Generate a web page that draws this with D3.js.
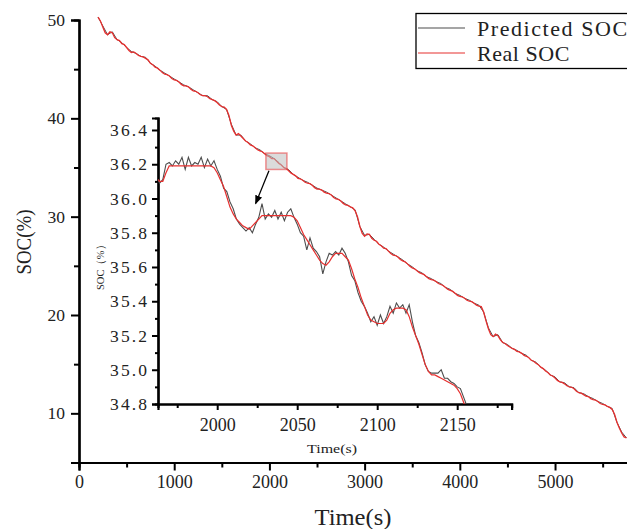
<!DOCTYPE html>
<html><head><meta charset="utf-8">
<script src="https://cdn.jsdelivr.net/npm/d3@7/dist/d3.min.js"></script>
<style>
html,body{margin:0;padding:0;background:#fff;}
svg{display:block;}
text{font-family:"Liberation Serif","Times New Roman",serif;fill:#222;}
</style></head>
<body>
<svg id="chart" width="627" height="529"></svg>
<script>
// ---------------- DATA ----------------
const realTime = [200,225,250,275,300,325,350,375,400,425,450,475,500,525,550,575,600,625,650,675,700,725,750,775,800,825,850,875,900,925,950,975,1000,1025,1050,1075,1100,1125,1150,1175,1200,1225,1250,1275,1300,1325,1350,1375,1400,1425,1450,1475,1500,1525,1550,1575,1600,1625,1650,1675,1700,1725,1750,1775,1800,1825,1850,1875,1900,1925,1950,1975,2000,2025,2050,2075,2100,2125,2150,2175,2200,2225,2250,2275,2300,2325,2350,2375,2400,2425,2450,2475,2500,2525,2550,2575,2600,2625,2650,2675,2700,2725,2750,2775,2800,2825,2850,2875,2900,2925,2950,2975,3000,3025,3050,3075,3100,3125,3150,3175,3200,3225,3250,3275,3300,3325,3350,3375,3400,3425,3450,3475,3500,3525,3550,3575,3600,3625,3650,3675,3700,3725,3750,3775,3800,3825,3850,3875,3900,3925,3950,3975,4000,4025,4050,4075,4100,4125,4150,4175,4200,4225,4250,4275,4300,4325,4350,4375,4400,4425,4450,4475,4500,4525,4550,4575,4600,4625,4650,4675,4700,4725,4750,4775,4800,4825,4850,4875,4900,4925,4950,4975,5000,5025,5050,5075,5100,5125,5150,5175,5200,5225,5250,5275,5300,5325,5350,5375,5400,5425,5450,5475,5500,5525,5550,5575,5600,5625,5650,5675,5700,5725,5750];
const realSOC = [50.3,49.9,49.3,48.7,48.5,48.8,48.7,48.2,48.0,47.9,47.6,47.5,47.2,46.9,46.7,46.75,46.6,46.4,46.3,46.25,46.1,45.95,45.6,45.45,45.2,45.1,44.9,44.65,44.5,44.45,44.3,44.05,43.9,43.85,43.7,43.45,43.3,43.3,43.2,42.95,42.8,42.75,42.6,42.4,42.3,42.3,42.2,42.0,41.9,41.8,41.6,41.35,41.2,41.15,40.9,40.3,39.3,38.7,38.3,38.45,38.2,37.95,37.7,37.55,37.3,37.2,37.0,36.8,36.7,36.6,36.4,36.2,36.1,35.9,35.9,35.65,35.4,35.25,35.0,34.9,34.7,34.45,34.3,34.15,33.9,33.85,33.7,33.5,33.4,33.35,33.2,32.95,32.8,32.8,32.7,32.5,32.4,32.35,32.2,31.95,31.8,31.75,31.6,31.35,31.2,31.15,31.0,30.9,30.6,30.0,29.0,28.3,28.0,28.25,28.2,27.8,27.6,27.5,27.2,27.05,26.8,26.75,26.5,26.25,26.1,26.05,25.9,25.65,25.5,25.4,25.2,24.95,24.8,24.7,24.5,24.3,24.2,24.1,23.9,23.7,23.6,23.55,23.4,23.2,23.1,23.0,22.8,22.6,22.5,22.4,22.2,22.0,21.9,21.85,21.7,21.5,21.4,21.35,21.2,21.0,20.9,20.85,20.3,19.4,18.6,18.0,17.8,18.05,17.9,17.5,17.2,17.1,16.9,16.75,16.6,16.5,16.3,16.25,16.1,15.9,15.8,15.65,15.4,15.3,15.1,14.95,14.7,14.55,14.3,14.15,13.9,13.8,13.6,13.35,13.2,13.15,13.0,12.8,12.7,12.65,12.5,12.25,12.1,12.05,11.9,11.75,11.7,11.5,11.4,11.35,11.2,11.0,10.9,10.85,10.7,10.6,10.4,9.9,9.1,8.5,8.0,7.6,7.5];

const predTime = [200,250,300,350,400,450,500,550,600,650,700,750,800,850,900,950,1000,1050,1100,1150,1200,1250,1300,1350,1400,1450,1500,1550,1600,1650,1700,1750,1800,1850,1900,1950,2000,2050,2100,2150,2200,2250,2300,2350,2400,2450,2500,2550,2600,2650,2700,2750,2800,2850,2900,2950,3000,3050,3100,3150,3200,3250,3300,3350,3400,3450,3500,3550,3600,3650,3700,3750,3800,3850,3900,3950,4000,4050,4100,4150,4200,4250,4300,4350,4400,4450,4500,4550,4600,4650,4700,4750,4800,4850,4900,4950,5000,5050,5100,5150,5200,5250,5300,5350,5400,5450,5500,5550,5600,5650,5700,5750];
const predSOC = [50.3,49.4,48.5,48.8,48.0,47.7,47.2,46.8,46.6,46.3,46.2,45.6,45.3,44.9,44.6,44.3,44.0,43.7,43.4,43.2,42.9,42.6,42.3,42.3,41.9,41.7,41.2,40.9,39.4,38.3,38.3,37.7,37.4,37.0,36.8,36.4,36.2,35.9,35.5,35.0,34.8,34.3,34.0,33.7,33.5,33.2,32.9,32.7,32.5,32.2,31.9,31.6,31.3,31.0,30.7,29.0,28.1,28.2,27.7,27.2,26.9,26.5,26.2,25.9,25.6,25.2,24.9,24.5,24.3,23.9,23.7,23.4,23.2,22.8,22.6,22.2,22.0,21.7,21.5,21.2,21.0,20.3,18.7,17.8,18.0,17.2,17.0,16.6,16.4,16.1,15.9,15.4,15.2,14.7,14.4,13.9,13.7,13.2,13.1,12.7,12.6,12.1,12.0,11.7,11.5,11.2,11.0,10.7,10.5,9.1,8.1,7.5];

const insetTime = [1962,1964,1966,1968,1970,1972,1974,1976,1978,1980,1982,1984,1986,1988,1990,1992,1994,1996,1998,2000,2002,2004,2006,2008,2010,2012,2014,2016,2018,2020,2022,2024,2026,2028,2030,2032,2034,2036,2038,2040,2042,2044,2046,2048,2050,2052,2054,2056,2058,2060,2062,2064,2066,2068,2070,2072,2074,2076,2078,2080,2082,2084,2086,2088,2090,2092,2094,2096,2098,2100,2102,2104,2106,2108,2110,2112,2114,2116,2118,2120,2122,2124,2126,2128,2130,2132,2134,2136,2138,2140,2142,2144,2146,2148,2150,2152,2154,2156];
const insetReal = [36.12,36.10,36.10,36.15,36.19,36.19,36.19,36.19,36.19,36.19,36.19,36.19,36.19,36.19,36.19,36.19,36.19,36.19,36.18,36.15,36.11,36.07,36.01,35.95,35.91,35.88,35.86,35.84,35.83,35.82,35.84,35.86,35.88,35.90,35.90,35.90,35.90,35.90,35.90,35.90,35.90,35.90,35.90,35.89,35.87,35.83,35.79,35.76,35.73,35.70,35.67,35.64,35.62,35.61,35.63,35.66,35.68,35.68,35.68,35.66,35.64,35.59,35.53,35.48,35.42,35.37,35.32,35.29,35.28,35.27,35.27,35.27,35.29,35.33,35.35,35.36,35.36,35.36,35.35,35.31,35.25,35.20,35.15,35.09,35.03,34.99,34.97,34.97,34.96,34.95,34.94,34.93,34.92,34.91,34.89,34.86,34.81,34.76];
const insetPred = [36.12,36.09,36.11,36.20,36.21,36.19,36.22,36.20,36.24,36.17,36.24,36.19,36.21,36.20,36.24,36.18,36.23,36.19,36.22,36.17,36.13,36.06,36.04,35.98,35.94,35.88,35.85,35.83,35.81,35.83,35.80,35.85,35.89,35.97,35.88,35.91,35.89,35.93,35.88,35.92,35.87,35.92,35.94,35.89,35.85,35.80,35.78,35.70,35.77,35.71,35.69,35.66,35.56,35.63,35.68,35.67,35.69,35.67,35.71,35.68,35.63,35.55,35.52,35.45,35.40,35.37,35.33,35.28,35.31,35.26,35.32,35.27,35.31,35.37,35.33,35.39,35.36,35.38,35.33,35.38,35.28,35.20,35.16,35.10,35.03,34.99,34.98,34.98,34.98,35.00,34.95,34.95,34.93,34.92,34.90,34.89,34.84,34.79];

const mainXTicks = [0,1000,2000,3000,4000,5000];
const mainYTicks = [10,20,30,40,50];
const insetXTicks = [2000,2050,2100,2150];
const insetYTicks = [34.8,35.0,35.2,35.4,35.6,35.8,36.0,36.2,36.4];
const seriesNames = ["Predicted SOC","Real SOC"];
const seriesColors = ["#4d4d4d","#e6302f"];

// ---------------- CHART ----------------
const svg = d3.select("#chart");

const x = d3.scaleLinear().domain([0,5800]).range([79,631.2]);
const y = d3.scaleLinear().domain([5,50]).range([462.5,20]);

const xAxis = d3.axisBottom(x).tickValues(mainXTicks).tickSize(8).tickPadding(5).tickFormat(d3.format("d"));
const gx = svg.append("g").attr("transform","translate(0,462.5)").call(xAxis);
const yAxis = d3.axisLeft(y).tickValues(mainYTicks).tickSize(8).tickPadding(6).tickFormat(d3.format("d"));
const gy = svg.append("g").attr("transform","translate(79,0)").call(yAxis);
svg.append("g").attr("transform","translate(0,462.5)")
  .call(d3.axisBottom(x).tickValues(d3.range(500,5800,1000)).tickSize(5).tickFormat(""));
svg.append("g").attr("transform","translate(79,0)")
  .call(d3.axisLeft(y).tickValues([15,25,35,45]).tickSize(5).tickFormat(""));
svg.selectAll(".domain").attr("stroke","#000").attr("stroke-width",2.2);
svg.selectAll(".tick line").attr("stroke","#000").attr("stroke-width",2);
gx.selectAll(".tick text").style("font-size","18px").attr("fill","#222");
gy.selectAll(".tick text").style("font-size","17.5px").attr("fill","#222");

// main lines
const lineOf = (ts,sx,sy)=> (vals)=> d3.line().x((d,i)=>sx(ts[i])).y(d=>sy(d))(vals);
svg.append("path").attr("d",lineOf(predTime,x,y)(predSOC)).attr("fill","none").attr("stroke",seriesColors[0]).attr("stroke-width",1.0);
svg.append("path").attr("d",lineOf(realTime,x,y)(realSOC)).attr("fill","none").attr("stroke",seriesColors[1]).attr("stroke-width",1.3);

// inset scales
const ix = d3.scaleLinear().domain([1963,2184]).range([158,511.6]);
const iy = d3.scaleLinear().domain([34.8,36.47]).range([404,118]);

// zoom rectangle
svg.append("rect")
  .attr("x",x(ix.domain()[0])).attr("y",y(iy.domain()[1]))
  .attr("width",x(ix.domain()[1])-x(ix.domain()[0]))
  .attr("height",y(iy.domain()[0])-y(iy.domain()[1]))
  .attr("fill","rgba(190,190,190,0.55)").attr("stroke","rgba(232,56,58,0.55)").attr("stroke-width",1.5);

// arrow
svg.append("defs").append("marker").attr("id","arr").attr("viewBox","0 0 10 10")
  .attr("refX",9).attr("refY",5).attr("markerWidth",7).attr("markerHeight",7).attr("orient","auto")
  .append("path").attr("d","M0,1 L10,5 L0,9 Z").attr("fill","#000");
svg.append("line")
  .attr("x1",x(1995)).attr("y1",y(34.76)+1)
  .attr("x2",ix(2024)).attr("y2",iy(35.97))
  .attr("stroke","#000").attr("stroke-width",1.3).attr("marker-end","url(#arr)");

// inset axes
const ixAxis = d3.axisBottom(ix).tickValues(insetXTicks).tickSize(6).tickPadding(8).tickFormat(d3.format("d"));
const gix = svg.append("g").attr("transform","translate(0,404)").call(ixAxis);
const iyAxis = d3.axisLeft(iy).tickValues(insetYTicks).tickSize(6).tickPadding(5).tickFormat(d3.format(".1f"));
const giy = svg.append("g").attr("transform","translate(158,0)").call(iyAxis);
svg.append("g").attr("transform","translate(0,404)")
  .call(d3.axisBottom(ix).tickValues([1975,2025,2075,2125,2175]).tickSize(4).tickFormat(""));
svg.append("g").attr("transform","translate(158,0)")
  .call(d3.axisLeft(iy).tickValues([34.9,35.1,35.3,35.5,35.7,35.9,36.1,36.3]).tickSize(3).tickFormat(""));
svg.selectAll(".domain").attr("stroke","#000").attr("stroke-width",2.2);
svg.selectAll(".tick line").attr("stroke","#000").attr("stroke-width",2);
gix.selectAll(".tick text").style("font-size","18px").attr("fill","#222");
giy.selectAll(".tick text").style("font-size","17.5px").attr("fill","#222").attr("textLength",37).attr("lengthAdjust","spacing");

// inset lines (clipped)
svg.append("clipPath").attr("id","iclip").append("rect").attr("x",158).attr("y",110).attr("width",360).attr("height",294);
const ig = svg.append("g").attr("clip-path","url(#iclip)");
ig.append("path").attr("d",lineOf(insetTime,ix,iy)(insetPred)).attr("fill","none").attr("stroke",seriesColors[0]).attr("stroke-width",1.1);
ig.append("path").attr("d",lineOf(insetTime,ix,iy)(insetReal)).attr("fill","none").attr("stroke",seriesColors[1]).attr("stroke-width",1.2);

// axis labels
svg.append("text").attr("x",353).attr("y",525).attr("text-anchor","middle")
  .style("font-size","24px").attr("textLength",77).attr("lengthAdjust","spacingAndGlyphs").text("Time(s)");
svg.append("text").attr("transform","translate(31,242) rotate(-90)").attr("text-anchor","middle")
  .style("font-size","21px").attr("textLength",65).attr("lengthAdjust","spacingAndGlyphs").text("SOC(%)");
svg.append("text").attr("x",332).attr("y",453).attr("text-anchor","middle")
  .style("font-size","13.5px").attr("textLength",50).attr("lengthAdjust","spacingAndGlyphs").text("Time(s)");
svg.append("text").attr("transform","translate(104,265) rotate(-90)").attr("text-anchor","middle")
  .style("font-size","11px").attr("textLength",50).attr("lengthAdjust","spacingAndGlyphs").text("SOC（%）");

// legend
const lg = svg.append("g");
lg.append("rect").attr("x",416).attr("y",13.5).attr("width",215).attr("height",55)
  .attr("fill","#fff").attr("stroke","#000").attr("stroke-width",1.3);
seriesNames.forEach((n,i)=>{
  const yy = 28 + i*25;
  lg.append("line").attr("x1",418).attr("x2",465).attr("y1",yy).attr("y2",yy)
    .attr("stroke",seriesColors[i]).attr("stroke-width",1.2);
  lg.append("text").attr("x",477).attr("y",yy+8).style("font-size","22px").attr("fill","#222")
    .attr("textLength",n.length*11.55).attr("lengthAdjust","spacing").text(n);
});
</script>
</body></html>
